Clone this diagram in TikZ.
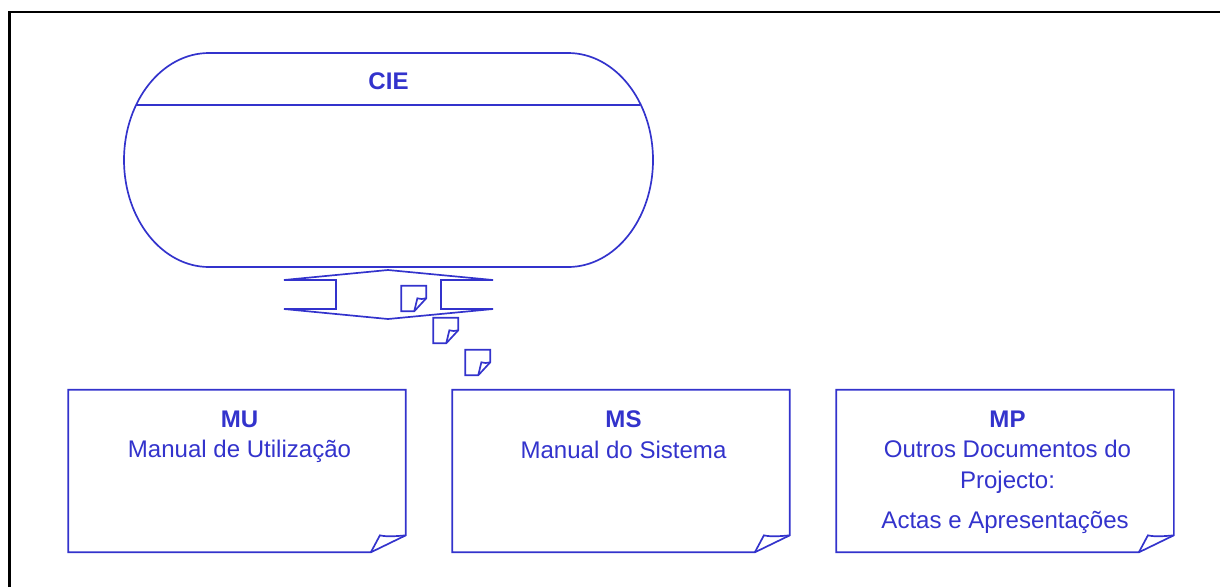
\documentclass[tikz,border=0pt]{standalone}
\usepackage{fontspec}
\setmainfont{Liberation Sans}
\definecolor{docblue}{RGB}{51,51,204}
\usetikzlibrary{calc}
% outline of a page with a turned corner: name, fold width, fold height
\newcommand{\pageoutline}[3]{
  \draw[outline] ($(#1.south east)+(0,-#3)$) -- (#1.north east) -- (#1.north west)
    -- (#1.south west) -- ($(#1.south east)+(-#2,0)$) -- cycle;
  \draw[outline] ($(#1.south east)+(-#2,0)$) -- ($(#1.south east)+({-0.74*#2},-#3)$)
    .. controls ($(#1.south east)+({-0.55*#2},{-0.9*#3})$) and ($(#1.south east)+({-0.25*#2},{-0.95*#3})$) .. ($(#1.south east)+(0,-#3)$);
}
\begin{document}
\begin{tikzpicture}[
    x=0.025cm, y=-0.025cm,
    outline/.style={draw=docblue, line width=1.2pt, line join=miter},
    frameline/.style={draw=black, line width=2pt},
    page/.style={rectangle, minimum width=8.425cm, minimum height=4.05cm,
                 inner sep=0pt},
    pagelabel/.style={text=docblue, font=\fontsize{17.1}{22}\selectfont, align=center,
                      anchor=north},
    smallpage/.style={rectangle, minimum width=0.61cm, minimum height=0.625cm,
                      inner sep=0pt}
  ]
    \useasboundingbox (0,0) rectangle (1220,587);
    \draw[frameline] (9.5,587) -- (9.5,12) -- (1220,12);

    % terminator with its title band
    \draw[outline] (209,53) -- (568,53) arc[start angle=-90, end angle=90, x radius=85, y radius=107]
      -- (209,267) arc[start angle=90, end angle=270, x radius=85, y radius=107];
    \coordinate (bandL) at (136,105);
    \coordinate (bandR) at (640,105);
    \draw[outline] (bandL) -- (bandR);
    \node[pagelabel, anchor=center] (cie) at (388.5,81.5) {\textbf{CIE}};

    % double block arrow
    \draw[outline] (284,280) -- (388,270) -- (493,280) -- (441,280) -- (441,309) -- (493,309)
      -- (388,319) -- (284,309) -- (336,309) -- (336,280) -- cycle;

    % pages in transit
    \node[smallpage] (P1) at (413.75,298.5) {};
    \node[smallpage] (P2) at (445.75,330.5) {};
    \node[smallpage] (P3) at (477.75,362.5) {};
    \pageoutline{P1}{12}{13}
    \pageoutline{P2}{12}{13}
    \pageoutline{P3}{12}{13}

    % manuals
    \node[page] (MU) at (237,471) {};
    \node[page] (MS) at (621,471) {};
    \node[page] (MP) at (1005,471) {};
    \pageoutline{MU}{35}{17}
    \pageoutline{MS}{35}{17}
    \pageoutline{MP}{35}{17}
    \node[pagelabel] (MUtext) at (239.5,405.5) {\textbf{MU}\\Manual de Utilização};
    \node[pagelabel] (MStext) at (623.5,405.5) {\textbf{MS}\\Manual do Sistema};
    \node[pagelabel] (MPtext) at (1007.5,405.5) {\textbf{MP}\\Outros Documentos do\\Projecto:\\[0.22cm]Actas e Apresentações\hspace*{0.12cm}};
  \end{tikzpicture}
\end{document}
